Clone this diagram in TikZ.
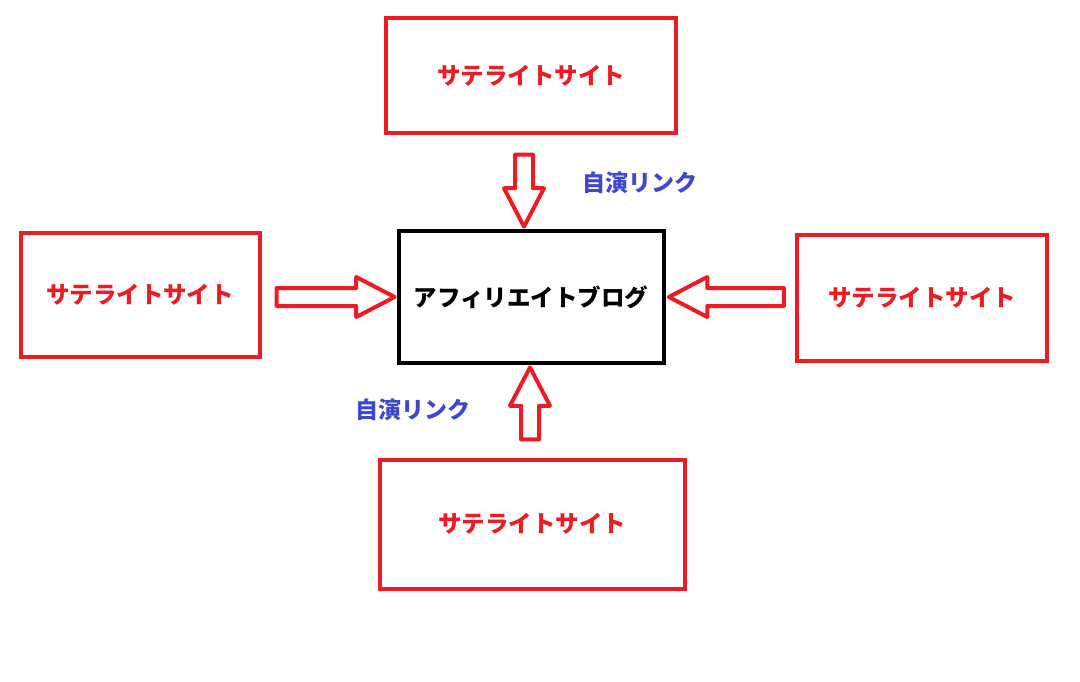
\documentclass[tikz,border=0pt]{standalone}
\usepackage{fontspec}
\newfontfamily\cjk{Noto Sans CJK JP}
\usetikzlibrary{shapes.arrows}
\definecolor{satred}{RGB}{237,28,36}
\definecolor{linkblue}{RGB}{63,72,204}

\begin{document}
\begin{tikzpicture}[
  x=1pt, y=-1pt,
  satbox/.style={draw=satred, line width=4pt, text=satred, font=\cjk\bfseries\fontsize{23.5}{28}\selectfont},
  mainbox/.style={draw=black, line width=4pt, font=\cjk\bfseries\fontsize{23.5}{28}\selectfont},
  blockarr/.style={single arrow, draw=satred, fill=white, line width=4pt, line join=round,
    inner sep=7pt, single arrow head extend=11pt, single arrow tip angle=55},
  linklbl/.style={text=linkblue, font=\cjk\bfseries\fontsize{23}{27}\selectfont},
]
\useasboundingbox (0,0) rectangle (1080,682);

\node [mainbox, minimum width=265, minimum height=131] (blog) at (531,297) {アフィリエイトブログ};

\node [satbox, minimum width=290, minimum height=115] (top) at (531,76) {サテライトサイト};
\node [satbox, minimum width=239, minimum height=123] (left) at (140,295) {サテライトサイト};
\node [satbox, minimum width=250, minimum height=125] (right) at (922,298) {サテライトサイト};
\node [satbox, minimum width=305, minimum height=129] (bottom) at (532,524) {サテライトサイト};

\node [blockarr, minimum height=72, rotate=-90] (atop) at (524,182) {};
\node [blockarr, minimum height=118] (aleft) at (327,297) {};
\node [blockarr, minimum height=115, rotate=180] (aright) at (735,297) {};
\node [blockarr, minimum height=72, rotate=90] (abottom) at (530,412) {};

\node [linklbl] (ltop) at (640,183) {自演リンク};
\node [linklbl] (lbottom) at (413,410) {自演リンク};

\end{tikzpicture}
\end{document}
